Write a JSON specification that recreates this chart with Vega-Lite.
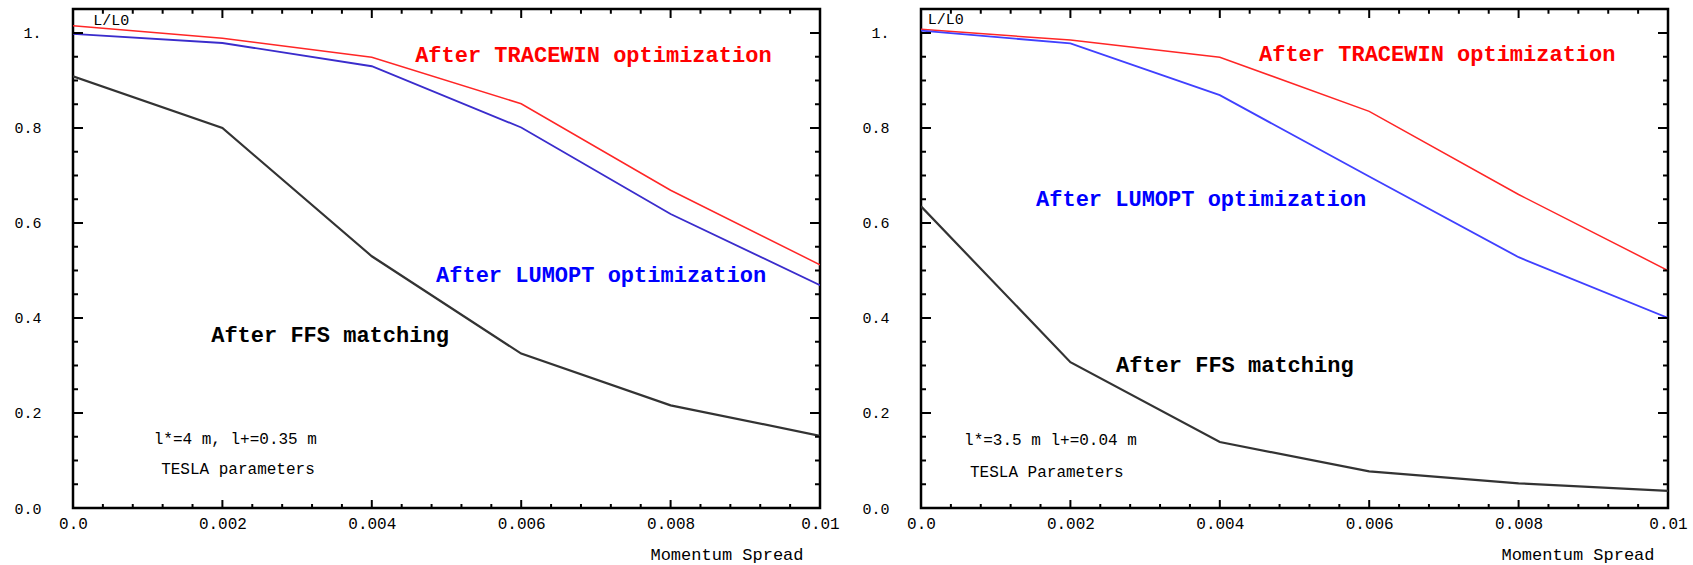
{
  "$schema": "https://vega.github.io/schema/vega-lite/v6.json",
  "autosize": {"type": "pad"},
  "padding": {"left": 12, "top": 6, "right": 0, "bottom": 0},
  "background": "white",
  "config": {
    "view": {"stroke": "black", "strokeWidth": 2.5},
    "axis": {"labelFont": "Liberation Mono", "labelColor": "black", "titleFont": "Liberation Mono", "titleColor": "black", "grid": false, "domain": false},
    "text": {"font": "Liberation Mono"},
    "rule": {"color": "black", "strokeWidth": 2}
  },
  "datasets": {
    "lines": [
      {"panel": "A", "series": "TRACEWIN", "spread": 0, "lum": 1.015},
      {"panel": "A", "series": "TRACEWIN", "spread": 0.002, "lum": 0.989},
      {"panel": "A", "series": "TRACEWIN", "spread": 0.004, "lum": 0.949},
      {"panel": "A", "series": "TRACEWIN", "spread": 0.006, "lum": 0.851},
      {"panel": "A", "series": "TRACEWIN", "spread": 0.008, "lum": 0.669},
      {"panel": "A", "series": "TRACEWIN", "spread": 0.01, "lum": 0.512},
      {"panel": "A", "series": "LUMOPT", "spread": 0, "lum": 0.998},
      {"panel": "A", "series": "LUMOPT", "spread": 0.002, "lum": 0.979},
      {"panel": "A", "series": "LUMOPT", "spread": 0.004, "lum": 0.93},
      {"panel": "A", "series": "LUMOPT", "spread": 0.006, "lum": 0.801},
      {"panel": "A", "series": "LUMOPT", "spread": 0.008, "lum": 0.619},
      {"panel": "A", "series": "LUMOPT", "spread": 0.01, "lum": 0.469},
      {"panel": "A", "series": "FFS", "spread": 0, "lum": 0.909},
      {"panel": "A", "series": "FFS", "spread": 0.002, "lum": 0.8},
      {"panel": "A", "series": "FFS", "spread": 0.004, "lum": 0.53},
      {"panel": "A", "series": "FFS", "spread": 0.006, "lum": 0.325},
      {"panel": "A", "series": "FFS", "spread": 0.008, "lum": 0.216},
      {"panel": "A", "series": "FFS", "spread": 0.01, "lum": 0.152},
      {"panel": "B", "series": "TRACEWIN", "spread": 0, "lum": 1.008},
      {"panel": "B", "series": "TRACEWIN", "spread": 0.002, "lum": 0.985},
      {"panel": "B", "series": "TRACEWIN", "spread": 0.004, "lum": 0.949},
      {"panel": "B", "series": "TRACEWIN", "spread": 0.006, "lum": 0.835},
      {"panel": "B", "series": "TRACEWIN", "spread": 0.008, "lum": 0.66},
      {"panel": "B", "series": "TRACEWIN", "spread": 0.01, "lum": 0.5},
      {"panel": "B", "series": "LUMOPT", "spread": 0, "lum": 1.005},
      {"panel": "B", "series": "LUMOPT", "spread": 0.002, "lum": 0.978},
      {"panel": "B", "series": "LUMOPT", "spread": 0.004, "lum": 0.869},
      {"panel": "B", "series": "LUMOPT", "spread": 0.006, "lum": 0.698},
      {"panel": "B", "series": "LUMOPT", "spread": 0.008, "lum": 0.528},
      {"panel": "B", "series": "LUMOPT", "spread": 0.01, "lum": 0.4},
      {"panel": "B", "series": "FFS", "spread": 0, "lum": 0.635},
      {"panel": "B", "series": "FFS", "spread": 0.002, "lum": 0.307},
      {"panel": "B", "series": "FFS", "spread": 0.004, "lum": 0.139},
      {"panel": "B", "series": "FFS", "spread": 0.006, "lum": 0.077},
      {"panel": "B", "series": "FFS", "spread": 0.008, "lum": 0.052},
      {"panel": "B", "series": "FFS", "spread": 0.01, "lum": 0.036}
    ],
    "notes": [
      {"panel": "A", "kind": "big", "series": "TRACEWIN", "label": "After TRACEWIN optimization", "spread": 0.00458, "lum": 0.954},
      {"panel": "A", "kind": "big", "series": "LUMOPT", "label": "After LUMOPT optimization", "spread": 0.00486, "lum": 0.4905},
      {"panel": "A", "kind": "big", "series": "FFS", "label": "After FFS matching", "spread": 0.00185, "lum": 0.364},
      {"panel": "A", "kind": "small", "series": "FFS", "label": "l*=4 m, l+=0.35 m", "spread": 0.00108, "lum": 0.145},
      {"panel": "A", "kind": "small", "series": "FFS", "label": "TESLA parameters", "spread": 0.00118, "lum": 0.082},
      {"panel": "A", "kind": "ylab", "series": "FFS", "label": "L/L0", "spread": 0.00027, "lum": 1.027},
      {"panel": "B", "kind": "big", "series": "TRACEWIN", "label": "After TRACEWIN optimization", "spread": 0.004525, "lum": 0.956},
      {"panel": "B", "kind": "big", "series": "LUMOPT", "label": "After LUMOPT optimization", "spread": 0.00154, "lum": 0.651},
      {"panel": "B", "kind": "big", "series": "FFS", "label": "After FFS matching", "spread": 0.00261, "lum": 0.301},
      {"panel": "B", "kind": "small", "series": "FFS", "label": "l*=3.5 m l+=0.04 m", "spread": 0.000576, "lum": 0.143},
      {"panel": "B", "kind": "small", "series": "FFS", "label": "TESLA Parameters", "spread": 0.000656, "lum": 0.076},
      {"panel": "B", "kind": "ylab", "series": "FFS", "label": "L/L0", "spread": 0.00009, "lum": 1.03}
    ],
    "xticks": [
      {"grade": "minor", "value": 0.0004}, {"grade": "minor", "value": 0.0008}, {"grade": "minor", "value": 0.0012}, {"grade": "minor", "value": 0.0016},
      {"grade": "major", "value": 0.002},
      {"grade": "minor", "value": 0.0024}, {"grade": "minor", "value": 0.0028}, {"grade": "minor", "value": 0.0032}, {"grade": "minor", "value": 0.0036},
      {"grade": "major", "value": 0.004},
      {"grade": "minor", "value": 0.0044}, {"grade": "minor", "value": 0.0048}, {"grade": "minor", "value": 0.0052}, {"grade": "minor", "value": 0.0056},
      {"grade": "major", "value": 0.006},
      {"grade": "minor", "value": 0.0064}, {"grade": "minor", "value": 0.0068}, {"grade": "minor", "value": 0.0072}, {"grade": "minor", "value": 0.0076},
      {"grade": "major", "value": 0.008},
      {"grade": "minor", "value": 0.0084}, {"grade": "minor", "value": 0.0088}, {"grade": "minor", "value": 0.0092}, {"grade": "minor", "value": 0.0096}
    ],
    "yticks": [
      {"grade": "minor", "value": 0.05}, {"grade": "minor", "value": 0.1}, {"grade": "minor", "value": 0.15},
      {"grade": "major", "value": 0.2},
      {"grade": "minor", "value": 0.25}, {"grade": "minor", "value": 0.3}, {"grade": "minor", "value": 0.35},
      {"grade": "major", "value": 0.4},
      {"grade": "minor", "value": 0.45}, {"grade": "minor", "value": 0.5}, {"grade": "minor", "value": 0.55},
      {"grade": "major", "value": 0.6},
      {"grade": "minor", "value": 0.65}, {"grade": "minor", "value": 0.7}, {"grade": "minor", "value": 0.75},
      {"grade": "major", "value": 0.8},
      {"grade": "minor", "value": 0.85}, {"grade": "minor", "value": 0.9}, {"grade": "minor", "value": 0.95},
      {"grade": "major", "value": 1.0}
    ]
  },
  "hconcat": [
    {
      "width": 747,
      "height": 499,
      "resolve": {"scale": {"color": "independent"}},
      "layer": [
        {
          "data": {"name": "lines"},
          "transform": [{"filter": "datum.panel == 'A'"}],
          "mark": {"type": "line", "clip": true},
          "encoding": {
            "x": {"field": "spread", "type": "quantitative", "scale": {"domain": [0, 0.01], "nice": false, "zero": false},
              "axis": {"orient": "bottom", "ticks": false, "values": [0, 0.002, 0.004, 0.006, 0.008, 0.01], "labelExpr": "datum.value == 0 ? '0.0' : (datum.value > 0.0099 ? '0.01' : format(datum.value, '.3f'))", "labelPadding": 7, "labelFontSize": 16, "labelOverlap": false, "labelFlush": false, "labelBound": false, "title": "Momentum Spread", "titleX": 730, "titleY": 46, "titleAlign": "right", "titleAnchor": null, "titleBaseline": "middle", "titleFontWeight": "normal", "titleFontSize": 17}},
            "y": {"field": "lum", "type": "quantitative", "scale": {"domain": [0, 1.0505], "nice": false, "zero": false},
              "axis": {"orient": "left", "ticks": false, "values": [0, 0.2, 0.4, 0.6, 0.8, 1], "labelExpr": "datum.value == 1 ? '1.' : format(datum.value, '.1f')", "labelPadding": 32, "labelFontSize": 15, "labelOverlap": false, "labelFlush": false, "labelBound": false, "title": null}},
            "color": {"field": "series", "type": "nominal", "scale": {"domain": ["TRACEWIN", "LUMOPT", "FFS"], "range": ["#ff2626", "#3a2ccc", "#333333"]}, "legend": null},
            "strokeWidth": {"field": "series", "type": "nominal", "scale": {"domain": ["TRACEWIN", "LUMOPT", "FFS"], "range": [1.5, 2.2, 1.5]}, "legend": null}
          }
        },
        {"data": {"name": "xticks"}, "transform": [{"filter": "datum.grade == 'major'"}], "mark": {"type": "rule"},
          "encoding": {"x": {"field": "value", "type": "quantitative"}, "y": {"datum": 0, "type": "quantitative"}, "y2": {"datum": 0.0168}}},
        {"data": {"name": "xticks"}, "transform": [{"filter": "datum.grade == 'minor'"}], "mark": {"type": "rule"},
          "encoding": {"x": {"field": "value", "type": "quantitative"}, "y": {"datum": 0, "type": "quantitative"}, "y2": {"datum": 0.0084}}},
        {"data": {"name": "xticks"}, "transform": [{"filter": "datum.grade == 'major'"}], "mark": {"type": "rule"},
          "encoding": {"x": {"field": "value", "type": "quantitative"}, "y": {"datum": 1.0505, "type": "quantitative"}, "y2": {"datum": 1.0315}}},
        {"data": {"name": "xticks"}, "transform": [{"filter": "datum.grade == 'minor'"}], "mark": {"type": "rule"},
          "encoding": {"x": {"field": "value", "type": "quantitative"}, "y": {"datum": 1.0505, "type": "quantitative"}, "y2": {"datum": 1.0405}}},
        {"data": {"name": "yticks"}, "transform": [{"filter": "datum.grade == 'major'"}], "mark": {"type": "rule"},
          "encoding": {"y": {"field": "value", "type": "quantitative"}, "x": {"datum": 0, "type": "quantitative"}, "x2": {"datum": 0.000134}}},
        {"data": {"name": "yticks"}, "transform": [{"filter": "datum.grade == 'minor'"}], "mark": {"type": "rule"},
          "encoding": {"y": {"field": "value", "type": "quantitative"}, "x": {"datum": 0, "type": "quantitative"}, "x2": {"datum": 0.000067}}},
        {"data": {"name": "yticks"}, "transform": [{"filter": "datum.grade == 'major'"}], "mark": {"type": "rule"},
          "encoding": {"y": {"field": "value", "type": "quantitative"}, "x": {"datum": 0.01, "type": "quantitative"}, "x2": {"datum": 0.009866}}},
        {"data": {"name": "yticks"}, "transform": [{"filter": "datum.grade == 'minor'"}], "mark": {"type": "rule"},
          "encoding": {"y": {"field": "value", "type": "quantitative"}, "x": {"datum": 0.01, "type": "quantitative"}, "x2": {"datum": 0.009933}}},
        {
          "data": {"name": "notes"},
          "transform": [{"filter": "datum.panel == 'A' && datum.kind == 'big'"}],
          "mark": {"type": "text", "align": "left", "baseline": "middle", "fontSize": 22, "fontWeight": "bold"},
          "encoding": {
            "x": {"field": "spread", "type": "quantitative"},
            "y": {"field": "lum", "type": "quantitative"},
            "text": {"field": "label"},
            "color": {"field": "series", "type": "nominal", "scale": {"domain": ["TRACEWIN", "LUMOPT", "FFS"], "range": ["#ff0000", "#0000ff", "#000000"]}, "legend": null}
          }
        },
        {
          "data": {"name": "notes"},
          "transform": [{"filter": "datum.panel == 'A' && datum.kind == 'small'"}],
          "mark": {"type": "text", "align": "left", "baseline": "middle", "fontSize": 16, "color": "black"},
          "encoding": {
            "x": {"field": "spread", "type": "quantitative"},
            "y": {"field": "lum", "type": "quantitative"},
            "text": {"field": "label"}
          }
        },
        {
          "data": {"name": "notes"},
          "transform": [{"filter": "datum.panel == 'A' && datum.kind == 'ylab'"}],
          "mark": {"type": "text", "align": "left", "baseline": "middle", "fontSize": 15, "color": "black"},
          "encoding": {
            "x": {"field": "spread", "type": "quantitative"},
            "y": {"field": "lum", "type": "quantitative"},
            "text": {"field": "label"}
          }
        }
      ]
    },
    {
      "width": 747,
      "height": 499,
      "resolve": {"scale": {"color": "independent"}},
      "layer": [
        {
          "data": {"name": "lines"},
          "transform": [{"filter": "datum.panel == 'B'"}],
          "mark": {"type": "line", "clip": true},
          "encoding": {
            "x": {"field": "spread", "type": "quantitative", "scale": {"domain": [0, 0.01], "nice": false, "zero": false},
              "axis": {"orient": "bottom", "ticks": false, "values": [0, 0.002, 0.004, 0.006, 0.008, 0.01], "labelExpr": "datum.value == 0 ? '0.0' : (datum.value > 0.0099 ? '0.01' : format(datum.value, '.3f'))", "labelPadding": 7, "labelFontSize": 16, "labelOverlap": false, "labelFlush": false, "labelBound": false, "title": "Momentum Spread", "titleX": 733, "titleY": 46, "titleAlign": "right", "titleAnchor": null, "titleBaseline": "middle", "titleFontWeight": "normal", "titleFontSize": 17}},
            "y": {"field": "lum", "type": "quantitative", "scale": {"domain": [0, 1.0505], "nice": false, "zero": false},
              "axis": {"orient": "left", "ticks": false, "values": [0, 0.2, 0.4, 0.6, 0.8, 1], "labelExpr": "datum.value == 1 ? '1.' : format(datum.value, '.1f')", "labelPadding": 32, "labelFontSize": 15, "labelOverlap": false, "labelFlush": false, "labelBound": false, "title": null}},
            "color": {"field": "series", "type": "nominal", "scale": {"domain": ["TRACEWIN", "LUMOPT", "FFS"], "range": ["#ff2626", "#4040ff", "#333333"]}, "legend": null},
            "strokeWidth": {"field": "series", "type": "nominal", "scale": {"domain": ["TRACEWIN", "LUMOPT", "FFS"], "range": [1.5, 1.4, 1.5]}, "legend": null}
          }
        },
        {"data": {"name": "xticks"}, "transform": [{"filter": "datum.grade == 'major'"}], "mark": {"type": "rule"},
          "encoding": {"x": {"field": "value", "type": "quantitative"}, "y": {"datum": 0, "type": "quantitative"}, "y2": {"datum": 0.0168}}},
        {"data": {"name": "xticks"}, "transform": [{"filter": "datum.grade == 'minor'"}], "mark": {"type": "rule"},
          "encoding": {"x": {"field": "value", "type": "quantitative"}, "y": {"datum": 0, "type": "quantitative"}, "y2": {"datum": 0.0084}}},
        {"data": {"name": "xticks"}, "transform": [{"filter": "datum.grade == 'major'"}], "mark": {"type": "rule"},
          "encoding": {"x": {"field": "value", "type": "quantitative"}, "y": {"datum": 1.0505, "type": "quantitative"}, "y2": {"datum": 1.0315}}},
        {"data": {"name": "xticks"}, "transform": [{"filter": "datum.grade == 'minor'"}], "mark": {"type": "rule"},
          "encoding": {"x": {"field": "value", "type": "quantitative"}, "y": {"datum": 1.0505, "type": "quantitative"}, "y2": {"datum": 1.0405}}},
        {"data": {"name": "yticks"}, "transform": [{"filter": "datum.grade == 'major'"}], "mark": {"type": "rule"},
          "encoding": {"y": {"field": "value", "type": "quantitative"}, "x": {"datum": 0, "type": "quantitative"}, "x2": {"datum": 0.000134}}},
        {"data": {"name": "yticks"}, "transform": [{"filter": "datum.grade == 'minor'"}], "mark": {"type": "rule"},
          "encoding": {"y": {"field": "value", "type": "quantitative"}, "x": {"datum": 0, "type": "quantitative"}, "x2": {"datum": 0.000067}}},
        {"data": {"name": "yticks"}, "transform": [{"filter": "datum.grade == 'major'"}], "mark": {"type": "rule"},
          "encoding": {"y": {"field": "value", "type": "quantitative"}, "x": {"datum": 0.01, "type": "quantitative"}, "x2": {"datum": 0.009866}}},
        {"data": {"name": "yticks"}, "transform": [{"filter": "datum.grade == 'minor'"}], "mark": {"type": "rule"},
          "encoding": {"y": {"field": "value", "type": "quantitative"}, "x": {"datum": 0.01, "type": "quantitative"}, "x2": {"datum": 0.009933}}},
        {
          "data": {"name": "notes"},
          "transform": [{"filter": "datum.panel == 'B' && datum.kind == 'big'"}],
          "mark": {"type": "text", "align": "left", "baseline": "middle", "fontSize": 22, "fontWeight": "bold"},
          "encoding": {
            "x": {"field": "spread", "type": "quantitative"},
            "y": {"field": "lum", "type": "quantitative"},
            "text": {"field": "label"},
            "color": {"field": "series", "type": "nominal", "scale": {"domain": ["TRACEWIN", "LUMOPT", "FFS"], "range": ["#ff0000", "#0000ff", "#000000"]}, "legend": null}
          }
        },
        {
          "data": {"name": "notes"},
          "transform": [{"filter": "datum.panel == 'B' && datum.kind == 'small'"}],
          "mark": {"type": "text", "align": "left", "baseline": "middle", "fontSize": 16, "color": "black"},
          "encoding": {
            "x": {"field": "spread", "type": "quantitative"},
            "y": {"field": "lum", "type": "quantitative"},
            "text": {"field": "label"}
          }
        },
        {
          "data": {"name": "notes"},
          "transform": [{"filter": "datum.panel == 'B' && datum.kind == 'ylab'"}],
          "mark": {"type": "text", "align": "left", "baseline": "middle", "fontSize": 15, "color": "black"},
          "encoding": {
            "x": {"field": "spread", "type": "quantitative"},
            "y": {"field": "lum", "type": "quantitative"},
            "text": {"field": "label"}
          }
        }
      ]
    }
  ],
  "spacing": 101,
  "bounds": "flush"
}
